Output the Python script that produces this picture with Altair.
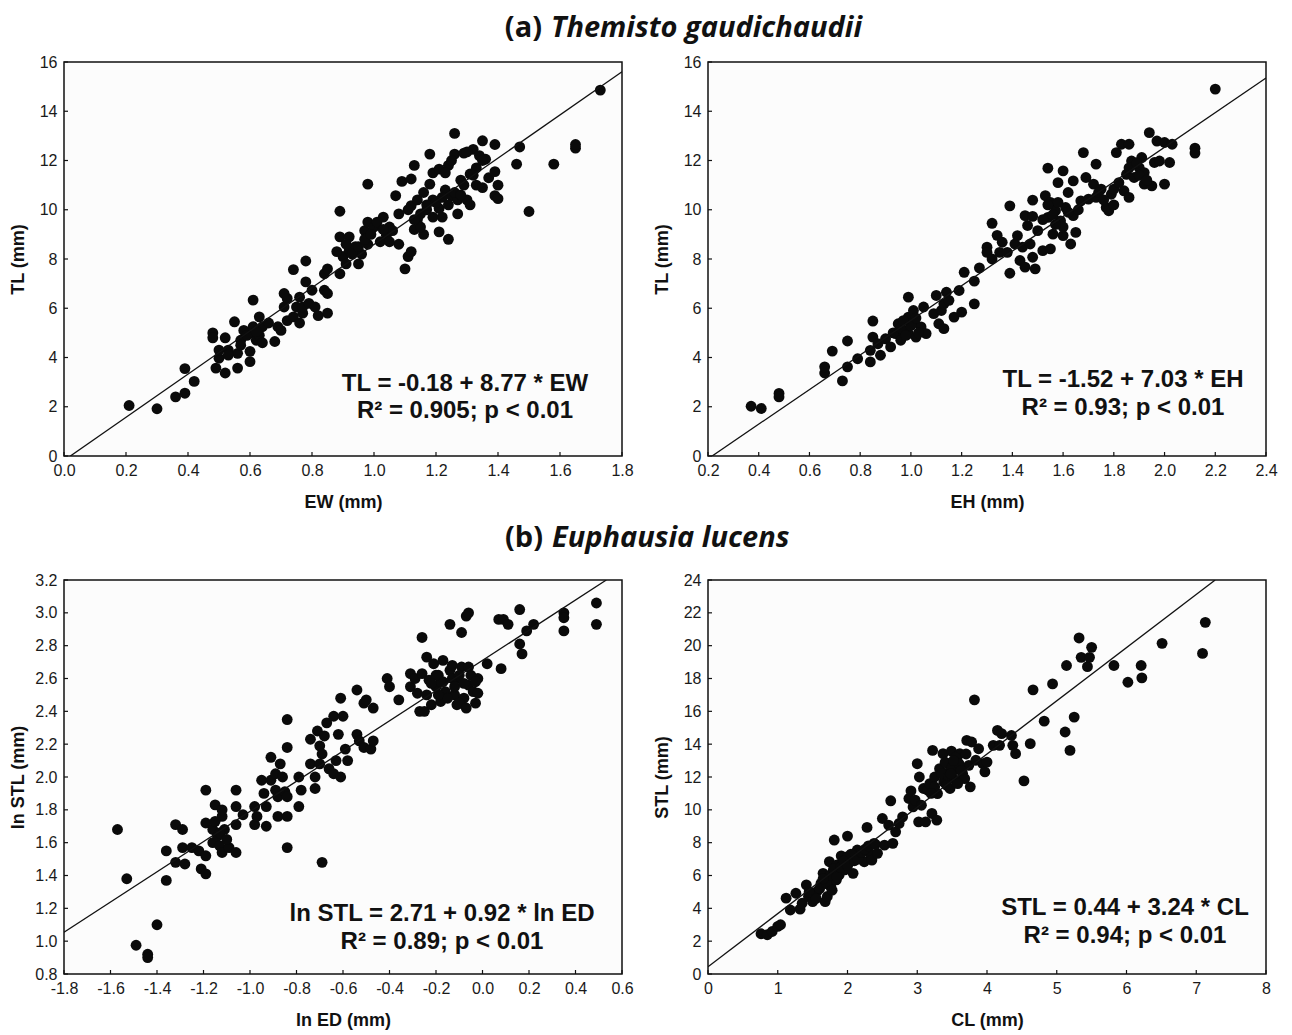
import altair as alt
import pandas as pd

# ---------------- data ----------------
# (a) Themisto gaudichaudii : EW vs TL
a1_x = [0.21,0.30,0.36,0.39,0.39,0.42,1.73,0.48,0.48,0.49,0.50,0.50,0.52,0.52,0.53,0.55,0.56,0.56,0.57,0.58,
        0.60,0.60,0.61,0.61,0.61,0.62,0.63,0.64,0.63,0.66,0.68,0.69,0.70,0.71,0.71,0.72,0.72,0.74,0.74,0.75,
        0.76,0.76,0.77,0.78,0.78,0.77,0.79,0.80,0.81,0.82,0.84,0.84,0.85,0.85,0.85,0.89,0.89,0.89,0.90,0.91,
        0.92,0.92,0.94,0.95,0.96,0.97,0.98,0.98,0.98,1.00,1.02,1.03,1.04,1.05,1.06,1.07,1.08,1.08,1.10,1.09,
        1.11,1.12,1.12,1.12,1.13,1.13,1.14,1.15,1.16,1.16,1.17,1.18,1.18,1.19,1.19,1.21,1.21,1.21,1.22,1.23,
        1.24,1.24,1.25,1.26,1.26,1.27,1.27,1.28,1.29,1.30,1.31,1.31,1.32,1.33,1.33,1.35,1.35,1.36,1.37,1.39,
        1.39,1.39,1.40,1.40,1.47,1.46,1.50,1.58,1.65,1.65,
        0.53,0.57,0.59,0.62,0.64,0.88,0.91,0.93,0.95,0.97,0.99,1.01,1.03,1.05,1.14,1.17,1.20,1.22,1.24,1.26,
        1.28,1.23,1.19,1.11,1.29,1.32,1.34,1.35,1.30,1.25,1.15,1.13]
a1_y = [2.05,1.92,2.40,2.55,3.55,3.03,14.86,5.00,4.80,3.57,3.97,4.30,3.37,4.80,4.30,5.45,3.57,4.17,4.70,5.10,
        3.83,4.25,6.33,5.00,5.25,4.70,5.65,5.25,4.90,5.40,4.65,5.25,5.10,6.05,6.60,5.50,6.40,5.65,7.57,6.05,
        5.40,6.45,5.80,7.07,7.92,6.05,6.20,6.73,6.05,5.70,6.73,7.40,7.60,5.80,6.60,7.40,9.94,8.90,8.10,7.80,
        8.90,8.35,8.50,7.80,8.20,9.15,11.04,8.60,9.50,9.30,8.70,9.70,8.96,9.30,9.15,10.57,8.60,9.83,7.60,11.15,
        8.10,10.17,8.30,11.25,11.80,9.20,10.40,9.83,10.70,9.00,10.00,11.04,12.26,11.50,10.40,11.65,9.10,10.05,9.70,10.80,
        11.80,8.80,10.57,13.10,12.26,10.40,9.83,11.20,12.30,10.40,10.20,11.45,12.45,11.70,11.00,12.80,10.90,12.05,11.30,12.65,
        11.55,10.57,11.00,10.45,12.55,11.85,9.93,11.85,12.50,12.65,
        4.10,4.50,4.90,5.05,4.60,8.30,8.60,8.20,8.50,8.80,9.00,9.50,9.20,8.70,9.60,10.20,10.30,10.50,10.20,10.70,
        10.60,11.50,9.70,10.00,11.00,11.40,12.20,12.00,12.35,12.00,9.30,9.60]

# (a) EH vs TL
a2_x = [0.37,0.41,0.48,0.48,0.66,0.66,0.69,0.73,0.75,0.75,0.79,0.84,0.84,0.85,0.85,0.87,0.88,0.90,0.92,0.94,
        0.95,0.96,0.97,0.99,0.99,0.99,1.01,1.01,1.02,1.04,1.05,1.06,1.09,1.10,1.11,1.12,1.13,1.13,1.14,1.15,
        1.17,1.19,1.20,1.21,1.25,1.25,1.27,1.30,1.30,1.32,1.32,1.34,1.35,1.36,1.38,1.39,1.39,1.41,1.42,1.43,
        1.44,1.45,1.45,1.46,1.47,1.48,1.48,1.49,1.48,1.50,1.52,1.53,1.54,1.54,1.55,1.55,1.56,1.57,1.58,1.59,
        1.60,1.60,1.61,1.62,1.63,1.64,1.64,1.65,1.67,1.68,1.69,1.70,1.72,1.73,1.73,1.75,1.77,1.78,1.79,1.80,
        1.81,1.82,1.83,1.84,1.85,1.86,1.86,1.87,1.88,1.90,1.91,1.92,1.92,1.94,1.95,1.96,1.97,1.98,2.00,2.00,
        2.02,2.03,2.12,2.12,2.20,
        0.93,0.96,0.98,1.00,1.02,1.03,0.97,1.52,1.56,1.58,1.60,1.62,1.57,1.54,1.66,1.74,1.76,1.80,1.86,1.89,
        1.90,1.93]
a2_y = [2.02,1.93,2.54,2.40,3.37,3.62,4.26,3.05,3.62,4.67,3.95,3.82,4.29,4.83,5.48,4.56,4.09,4.76,4.43,4.97,
        5.37,4.70,5.10,5.64,6.45,4.97,5.44,5.91,4.83,5.24,6.05,4.97,5.78,6.52,5.37,5.91,6.18,5.17,6.65,6.32,
        5.64,6.72,5.84,7.46,7.10,6.18,7.64,8.48,8.27,9.45,8.00,8.96,8.27,8.68,8.27,10.16,7.42,8.61,8.95,7.94,
        8.48,9.76,7.67,9.36,8.61,9.73,8.07,7.60,10.39,9.15,8.34,10.57,9.69,11.69,8.41,10.30,9.01,9.96,11.10,9.55,
        11.58,8.95,10.09,10.70,8.61,11.17,9.76,9.08,10.36,12.32,11.31,10.43,11.04,11.85,10.50,10.84,10.09,9.96,10.63,10.84,
        12.32,11.10,12.66,10.77,11.44,12.66,10.50,11.98,11.31,11.71,12.12,11.04,11.51,13.13,10.97,11.92,12.79,11.98,11.04,12.73,
        11.92,12.66,12.50,12.30,14.90,
        5.00,5.20,4.90,5.30,5.60,5.00,5.50,9.60,9.80,10.30,9.30,9.90,9.40,10.20,10.00,10.70,10.40,10.20,11.70,11.90,
        11.40,11.20]

# (b) Euphausia lucens : ln ED vs ln STL
b1_x = [-1.57,-1.53,-1.49,-1.44,-1.44,-1.40,-1.36,-1.36,-1.32,-1.32,-1.29,-1.29,-1.28,-1.25,-1.22,-1.21,-1.19,-1.19,-1.19,-1.19,
        -1.16,-1.16,-1.15,-1.14,-1.13,-1.12,-1.12,-1.12,-1.11,-1.09,-1.06,-1.06,-1.06,-1.06,-1.03,-0.98,-0.98,-0.97,-0.95,-0.94,
        -0.93,-0.93,-0.91,-0.91,-0.89,-0.89,-0.88,-0.88,-0.87,-0.86,-0.85,-0.84,-0.84,-0.84,-0.84,-0.84,-0.79,-0.79,-0.78,-0.74,
        -0.74,-0.72,-0.72,-0.71,-0.70,-0.70,-0.69,-0.69,-0.68,-0.67,-0.66,-0.64,-0.64,-0.63,-0.62,-0.61,-0.61,-0.60,-0.59,-0.58,
        -0.54,-0.54,-0.53,-0.51,-0.51,-0.50,-0.48,-0.47,-0.47,-0.41,-0.40,-0.36,-0.31,-0.31,-0.29,-0.28,-0.27,-0.26,-0.26,-0.25,
        -0.24,-0.24,-0.23,-0.22,-0.21,-0.20,-0.19,-0.18,-0.17,-0.17,-0.14,-0.14,-0.12,-0.11,-0.11,-0.09,-0.09,-0.08,-0.07,-0.06,
        -0.06,-0.06,-0.04,-0.03,-0.02,-0.02,0.02,0.07,0.08,0.09,0.11,0.16,0.16,0.17,0.19,0.22,0.35,0.35,0.35,0.49,
        0.49,
        -0.18,-0.16,-0.13,-0.12,-0.10,-0.08,-0.15,-0.20,-0.10,-0.05,-0.03,-0.22,-0.13,-0.07,-0.19,-1.13,-1.10,-1.15]
b1_y = [1.68,1.38,0.975,0.92,0.90,1.10,1.37,1.55,1.71,1.48,1.68,1.57,1.47,1.57,1.55,1.44,1.41,1.72,1.92,1.52,
        1.68,1.60,1.83,1.64,1.58,1.76,1.54,1.80,1.68,1.57,1.92,1.71,1.82,1.54,1.77,1.82,1.71,1.76,1.98,1.90,
        1.70,1.82,1.98,2.12,1.92,2.02,1.76,1.88,2.08,2.00,1.91,1.76,2.35,1.57,2.18,1.88,1.82,2.00,1.92,2.23,
        2.08,1.93,2.00,2.28,2.19,2.08,2.14,1.48,2.25,2.33,2.05,2.37,2.02,2.10,2.26,2.48,2.00,2.37,2.17,2.10,
        2.53,2.26,2.22,2.18,2.45,2.47,2.17,2.22,2.42,2.60,2.55,2.47,2.63,2.55,2.60,2.51,2.40,2.85,2.63,2.40,
        2.73,2.50,2.59,2.44,2.69,2.55,2.62,2.46,2.71,2.58,2.93,2.65,2.50,2.44,2.60,2.67,2.88,2.48,2.98,3.00,
        2.56,2.67,2.52,2.45,2.51,2.60,2.69,2.96,2.66,2.96,2.93,3.02,2.81,2.75,2.89,2.93,3.00,2.97,2.89,3.06,
        2.93,
        2.58,2.52,2.60,2.55,2.62,2.57,2.48,2.62,2.45,2.62,2.58,2.57,2.68,2.42,2.50,1.66,1.62,1.73]

# (b) CL vs STL
b2_x = [0.76,0.85,0.92,1.00,1.04,1.12,1.18,1.26,1.32,1.35,1.41,1.44,1.50,1.56,1.62,1.65,1.68,1.71,1.72,1.74,
        1.76,1.79,1.81,1.84,1.85,1.88,1.91,1.94,1.96,2.00,2.00,2.04,2.08,2.09,2.14,2.18,2.24,2.28,2.32,2.35,
        2.38,2.43,2.50,2.53,2.59,2.62,2.65,2.69,2.74,2.79,2.88,2.91,2.94,2.97,3.00,3.02,3.03,3.06,3.09,3.12,
        3.15,3.18,3.21,3.22,3.25,3.28,3.29,3.32,3.37,3.38,3.41,3.44,3.47,3.49,3.53,3.55,3.57,3.61,3.65,3.68,
        3.71,3.74,3.76,3.78,3.82,3.84,3.88,3.94,3.97,4.00,4.09,4.15,4.18,4.21,4.35,4.37,4.41,4.53,4.62,4.66,
        4.82,4.94,5.12,5.14,5.19,5.25,5.32,5.35,5.44,5.47,5.50,5.82,6.02,6.21,6.22,6.51,7.09,7.13,
        1.60,1.70,1.75,1.80,1.85,1.90,1.95,2.00,2.05,2.10,2.15,2.20,2.25,2.30,2.40,1.65,1.78,1.45,1.55,
        3.35,3.40,3.45,3.50,3.55,3.60,3.63,3.58,3.48,3.70,3.52,3.42,3.25,3.20]
b2_y = [2.45,2.39,2.59,2.90,3.00,4.62,3.90,4.92,3.95,4.31,5.43,4.72,4.41,5.02,5.53,6.13,4.41,4.72,5.83,6.84,
        5.32,6.23,8.16,5.73,6.64,6.03,7.19,6.84,6.34,8.40,7.15,6.84,6.13,7.15,7.55,7.25,6.84,8.93,7.35,6.94,
        7.96,7.35,9.47,7.85,9.07,10.55,7.96,8.66,9.17,9.57,10.69,11.15,10.18,10.59,12.81,9.27,12.00,10.28,11.30,9.27,
        11.20,11.60,9.78,13.62,12.00,9.37,10.99,12.51,13.42,11.70,12.21,12.81,11.30,13.58,12.41,11.80,13.02,13.42,12.21,11.90,
        14.23,12.71,11.40,14.13,16.70,13.02,13.72,12.81,12.31,12.91,13.93,14.84,13.93,14.64,14.53,13.93,13.42,11.76,14.03,17.31,
        15.40,17.67,14.74,18.79,13.62,15.65,20.47,19.29,18.72,19.29,19.90,18.79,17.77,18.79,18.04,20.14,19.53,21.42,
        5.20,5.50,6.00,6.40,5.90,6.50,6.90,6.60,7.30,6.90,7.00,7.40,7.60,7.80,7.90,5.80,5.10,5.00,4.60,
        12.20,12.90,12.00,12.60,13.20,12.80,12.40,11.60,12.20,13.40,13.00,11.50,11.40,11.00]

# regression coefficients (intercept, slope)
coef_a1 = [-0.18, 8.77]
coef_a2 = [-1.52, 7.03]
coef_b1 = [2.71, 0.92]
coef_b2 = [0.44, 3.24]

# axis ticks
ticks_a1_x = [0.0, 0.2, 0.4, 0.6, 0.8, 1.0, 1.2, 1.4, 1.6, 1.8]
ticks_a2_x = [0.2, 0.4, 0.6, 0.8, 1.0, 1.2, 1.4, 1.6, 1.8, 2.0, 2.2, 2.4]
ticks_a_y = [0, 2, 4, 6, 8, 10, 12, 14, 16]
ticks_b1_x = [-1.8, -1.6, -1.4, -1.2, -1.0, -0.8, -0.6, -0.4, -0.2, 0.0, 0.2, 0.4, 0.6]
ticks_b1_y = [0.8, 1.0, 1.2, 1.4, 1.6, 1.8, 2.0, 2.2, 2.4, 2.6, 2.8, 3.0, 3.2]
ticks_b2_x = [0, 1, 2, 3, 4, 5, 6, 7, 8]
ticks_b2_y = [0, 2, 4, 6, 8, 10, 12, 14, 16, 18, 20, 22, 24]

# section headings
head_a = ["(a)", "Themisto gaudichaudii"]
head_b = ["(b)", "Euphausia lucens"]

W, H = 558, 394
FONT = "Liberation Sans"
TFONT = "Open Sans"


def lexpr(fmt):
    return "replace(format(datum.value, '%s'), '\u2212', '-')" % fmt


def panel(xs, ys, xdom, ydom, xt, yt, xfmt, yfmt, xtitle, ytitle, coef,
          ann1, ann2, ax, ay1, ay2, head=None):
    xsc = alt.Scale(domain=xdom, nice=False, zero=False)
    ysc = alt.Scale(domain=ydom, nice=False, zero=False)
    xaxis = alt.Axis(values=xt, labelExpr=lexpr(xfmt), title=xtitle, ticks=False, domain=False, grid=False,
                     labelFont=FONT, labelFontSize=16, labelColor="#1a1a1a", labelPadding=6,
                     labelFlush=False, labelOverlap=False, labelBound=False,
                     minExtent=22, maxExtent=22, titlePadding=15,
                     titleFont=FONT, titleFontSize=18, titleFontWeight="bold", titleColor="#111")
    yaxis = alt.Axis(values=yt, labelExpr=lexpr(yfmt), title=ytitle, ticks=False, domain=False, grid=False,
                     labelFont=FONT, labelFontSize=16, labelColor="#1a1a1a", labelPadding=7,
                     labelFlush=False, labelOverlap=False, labelBound=False,
                     minExtent=30, maxExtent=30, titlePadding=7,
                     titleFont=FONT, titleFontSize=18, titleFontWeight="bold", titleColor="#111")
    df = pd.DataFrame({"x": xs, "y": ys})
    pts = alt.Chart(df).mark_circle(size=118, color="#0a0a0a", opacity=1).encode(
        x=alt.X("x:Q", scale=xsc, axis=xaxis),
        y=alt.Y("y:Q", scale=ysc, axis=yaxis),
    )
    a, b = coef
    x_lo = max(xdom[0], (ydom[0] - a) / b)
    x_hi = min(xdom[1], (ydom[1] - a) / b)
    ldf = pd.DataFrame({"x": [x_lo, x_hi], "y": [a + b * x_lo, a + b * x_hi]})
    line = alt.Chart(ldf).mark_line(color="#111", strokeWidth=1.3, clip=True).encode(
        x=alt.X("x:Q", scale=xsc, axis=xaxis), y=alt.Y("y:Q", scale=ysc, axis=yaxis))
    xtk = alt.Chart(pd.DataFrame({"x": xt})).mark_rule(color="#111", strokeWidth=1.2).encode(
        x=alt.X("x:Q", scale=xsc, axis=xaxis), y=alt.value(H - 4), y2=alt.value(H))
    ytk = alt.Chart(pd.DataFrame({"y": yt})).mark_rule(color="#111", strokeWidth=1.2).encode(
        y=alt.Y("y:Q", scale=ysc, axis=yaxis), x=alt.value(0), x2=alt.value(4))
    t1 = alt.Chart(pd.DataFrame({"t": [ann1]})).mark_text(
        font=FONT, fontSize=24, fontWeight="bold", color="#111", align="center", baseline="middle"
    ).encode(text="t:N", x=alt.value(ax), y=alt.value(ay1))
    t2 = alt.Chart(pd.DataFrame({"t": [ann2]})).mark_text(
        font=FONT, fontSize=24, fontWeight="bold", color="#111", align="center", baseline="middle"
    ).encode(text="t:N", x=alt.value(ax), y=alt.value(ay2))
    layers = [pts, line, xtk, ytk, t1, t2]
    if head is not None:
        parts, xr, xl, yy = head
        h1 = alt.Chart(pd.DataFrame({"t": [parts[0]]})).mark_text(
            font=TFONT, fontSize=29, fontWeight="bold", color="#111", align="right", baseline="middle"
        ).encode(text="t:N", x=alt.value(xr), y=alt.value(yy))
        h2 = alt.Chart(pd.DataFrame({"t": [parts[1]]})).mark_text(
            font=TFONT, fontSize=29, fontWeight="bold", fontStyle="italic", color="#111",
            align="left", baseline="middle"
        ).encode(text="t:N", x=alt.value(xl), y=alt.value(yy))
        layers += [h1, h2]
    return alt.layer(*layers).properties(width=W, height=H)


a1 = panel(a1_x, a1_y, [0, 1.8], [0, 16], ticks_a1_x, ticks_a_y, ".1f", "d", "EW (mm)", "TL (mm)",
           coef_a1, "TL = -0.18 + 8.77 * EW", "R² = 0.905; p < 0.01", 401, 322, 349,
           head=(head_a, 478, 487, -34))
a2 = panel(a2_x, a2_y, [0.2, 2.4], [0, 16], ticks_a2_x, ticks_a_y, ".1f", "d", "EH (mm)", "TL (mm)",
           coef_a2, "TL = -1.52 + 7.03 * EH", "R² = 0.93; p < 0.01", 415, 318, 346)
b1 = panel(b1_x, b1_y, [-1.8, 0.6], [0.8, 3.2], ticks_b1_x, ticks_b1_y, ".1f", ".1f", "ln ED (mm)", "ln STL (mm)",
           coef_b1, "ln STL = 2.71 + 0.92 * ln ED", "R² = 0.89; p < 0.01", 378, 334, 362,
           head=(head_b, 479, 488, -42))
b2 = panel(b2_x, b2_y, [0, 8], [0, 24], ticks_b2_x, ticks_b2_y, "d", "d", "CL (mm)", "STL (mm)",
           coef_b2, "STL = 0.44 + 3.24 * CL", "R² = 0.94; p < 0.01", 417, 328, 356)

chart = alt.concat(a1, a2, b1, b2, columns=2, spacing={"row": 124, "column": 86}, bounds="flush").properties(
    padding={"left": 0, "top": 5, "right": 0, "bottom": 0},
    background="white",
).configure_view(stroke="#111", strokeWidth=1.5, fill="#fcfcfc")

chart.save("out.html", embed_options={"renderer": "svg", "actions": False})
